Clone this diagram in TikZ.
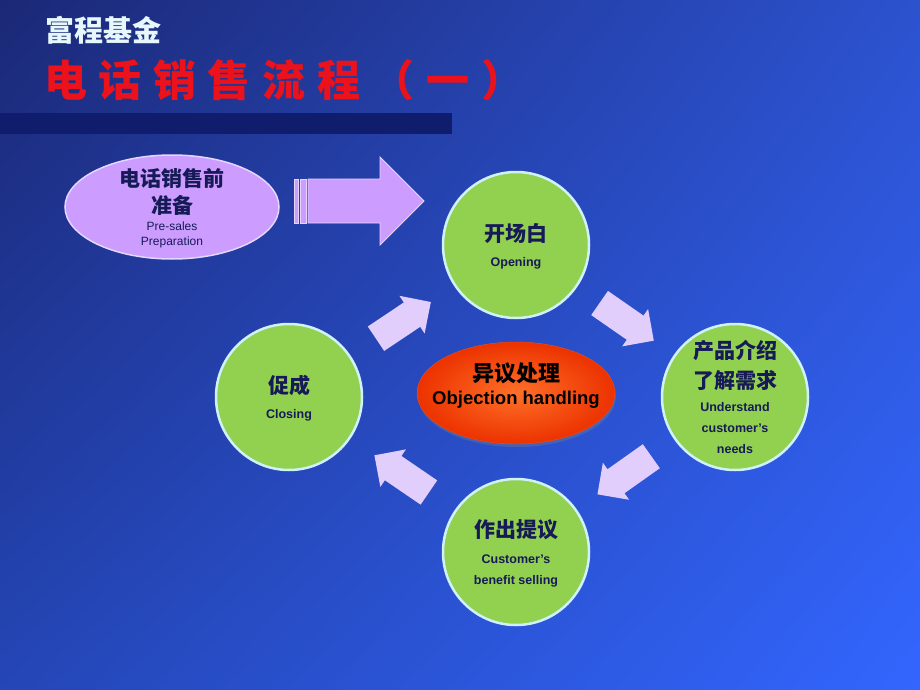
\documentclass[tikz,border=0pt]{standalone}
\usepackage{fontspec}
\setmainfont{Liberation Sans}
\newfontfamily\cjk{Noto Sans CJK SC}
\usetikzlibrary{shapes.geometric,shapes.arrows,shadows,shadings}
\definecolor{navy}{RGB}{22,26,86}
\definecolor{lav}{RGB}{204,156,255}
\definecolor{lavrim}{RGB}{228,214,255}
\definecolor{lavlight}{RGB}{226,206,252}
\definecolor{grn}{RGB}{146,208,80}
\definecolor{rim}{RGB}{208,240,250}
\definecolor{redt}{RGB}{236,18,28}
\definecolor{bar}{RGB}{16,28,108}
\definecolor{bgul}{RGB}{27,40,118}
\definecolor{bgur}{RGB}{44,82,206}
\definecolor{bgll}{RGB}{36,70,182}
\definecolor{bglr}{RGB}{51,102,255}
\definecolor{objin}{RGB}{255,112,40}
\definecolor{objout}{RGB}{236,50,0}
\definecolor{objrim}{RGB}{240,80,20}
\newcommand\zh{\cjk\bfseries\fontsize{21}{26}\selectfont}
\newcommand\en{\normalfont\bfseries\fontsize{12.5}{15}\selectfont}
\begin{document}
\begin{tikzpicture}[x=1pt,y=-1pt,
    lines/.style={font={\fontsize{12}{#1}\selectfont\lineskiplimit=-1000pt}},
    stage/.style={circle,fill=grn,draw=rim,line width=2.5pt,minimum size=146pt,inner sep=0pt,align=center,text=navy},
    flow/.style={single arrow,fill=lavlight,minimum height=66pt,inner xsep=0pt,inner ysep=14.5pt,pos=.45,
        single arrow head extend=8pt,single arrow tip angle=90,sloped,allow upside down}]
\useasboundingbox (0,0) rectangle (920,690);
\shade[upper left=bgul,upper right=bgur,lower left=bgll,lower right=bglr] (0,0) rectangle (920,690);
\node (brand) at (45,30)[anchor=west,inner sep=0pt,text=white!90!cyan]{\cjk\bfseries\fontsize{29}{30}\selectfont 富程基金};
\node (title) at (44,80)[anchor=west,inner sep=0pt,text=redt]{\cjk\bfseries\fontsize{43}{48}\selectfont\addfontfeature{LetterSpace=27}电话销售流程（一）};
\fill[bar] (0,113) rectangle (452,134);
% pre-sales
\node (prep) at (172,207)[ellipse,fill=lav,draw=lavrim,line width=1.5pt,minimum width=214pt,minimum height=104pt,
    inner xsep=0pt,inner ysep=-6pt,text depth=-7.5pt,align=center,text=navy,lines=15]
    {\zh 电话销售前\\[12pt]\zh 准备\\[2pt]\normalfont\fontsize{12}{14}\selectfont Pre-sales\\\normalfont\fontsize{12}{14}\selectfont Preparation};
\filldraw[fill=lav,draw=lavrim,line width=.8pt] (294,179) rectangle (298,223) (300,179) rectangle (306,223);
\filldraw[fill=lav,draw=lavrim,line width=.8pt] (308,179)--(380,179)--(380,157)--(424,201)--(380,245)--(380,223)--(308,223)--cycle;
% cycle
\node (opening) at (516,245)[stage,lines=24.5,text depth=-8.5pt]{\zh 开场白\\\en Opening};
\node (product) at (735,397)[stage,lines=21]{\zh 产品介绍\\[9pt]\zh 了解需求\\[2.5pt]\en Understand\\\en customer's\\\en needs};
\node (proposal) at (516,552)[stage,lines=21,text depth=-11pt]{\zh 作出提议\\[4.5pt]\en Customer's\\\en benefit selling};
\node (closing) at (289,397)[stage,lines=25.5,text depth=-2pt]{\zh 促成\\\en Closing};
\node (objection) at (516,393)[ellipse,inner color=objin,outer color=objout,draw=objrim,
    minimum width=198pt,minimum height=102pt,inner xsep=-20pt,inner ysep=0pt,text depth=18pt,align=center,lines=23,
    drop shadow={shadow xshift=1pt,shadow yshift=-3pt,opacity=.35}]
    {\cjk\bfseries\fontsize{22}{26}\selectfont 异议处理\\\normalfont\bfseries\fontsize{18.5}{22}\selectfont Objection handling};
\path (closing)--node[flow]{}(opening);
\path (opening)--node[flow]{}(product);
\path (product)--node[flow]{}(proposal);
\path (proposal)--node[flow]{}(closing);
\end{tikzpicture}
\end{document}
